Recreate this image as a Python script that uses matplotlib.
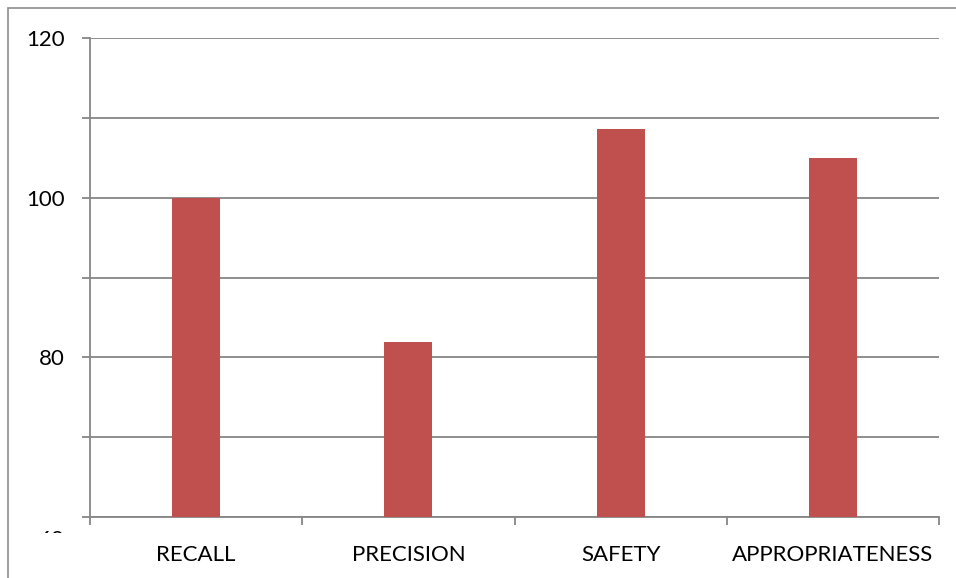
import matplotlib
matplotlib.use("Agg")
import matplotlib.pyplot as plt
from matplotlib.patches import Rectangle
from matplotlib.transforms import Bbox

categories = ["RECALL", "PRECISION", "SAFETY", "APPROPRIATENESS"]
values = [100, 81.9, 108.6, 105]
grid_ticks = [60, 70, 80, 90, 100, 110, 120]
label_ticks = [80, 100, 120]

bar_color = "#C0504D"
grid_color = "#868686"

plt.rcParams['font.family'] = ['Lato', 'DejaVu Sans']

fig = plt.figure(figsize=(9.56, 5.78), dpi=100)
fig.patches.append(Rectangle((8 / 956, -0.1), 1.2, 1 - 8 / 578 + 0.1,
                             transform=fig.transFigure, fill=False,
                             edgecolor="#8c8c8c", linewidth=1.2))

ax = fig.add_axes([90 / 956, 1 - 517 / 578, (939 - 90) / 956, (517 - 38) / 578])
x = list(range(len(categories)))
ax.bar(x, values, width=0.226, color=bar_color, zorder=3)

ax.set_xlim(-0.5, len(categories) - 0.5)
ax.set_ylim(60, 120)

ax.set_yticks(grid_ticks)
ax.set_yticklabels([str(t) if t in label_ticks else "" for t in grid_ticks])
ax.yaxis.grid(True, color=grid_color, linewidth=1.3)
ax.set_axisbelow(True)

ax.set_xticks([i - 0.5 for i in range(len(categories) + 1)])
ax.set_xticklabels([])
ax.set_xticks(x, minor=True)
ax.set_xticklabels(categories, minor=True)

for s in ["top", "right"]:
    ax.spines[s].set_visible(False)
for s in ["left", "bottom"]:
    ax.spines[s].set_color(grid_color)
    ax.spines[s].set_linewidth(1.3)

ax.tick_params(axis="y", which="major", length=6, width=1.3, color=grid_color,
               pad=12, labelsize=16)
ax.tick_params(axis="x", which="major", length=6, width=1.3, color=grid_color)
ax.tick_params(axis="x", which="minor", length=0, pad=20, labelsize=16)

# the "60" label is mostly hidden under the axis in the original
low = ax.annotate("60", xy=(-0.5, 60), xycoords="data", xytext=(-18, -9),
                  textcoords="offset points", ha="right", va="top", fontsize=16)
low.set_clip_box(Bbox.from_extents(0, 578 - 533, 956, 578))
low.set_clip_on(True)

fig.savefig("out.png", dpi=100)
